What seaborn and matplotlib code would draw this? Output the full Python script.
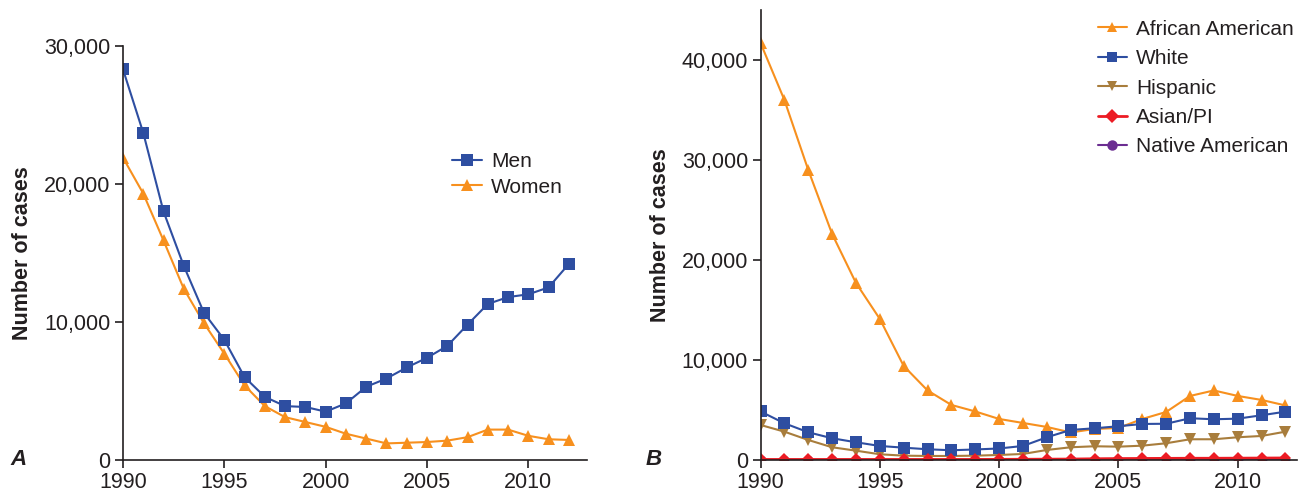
import numpy as np
import pandas as pd
import matplotlib
matplotlib.use("Agg")
import matplotlib.pyplot as plt
import seaborn as sns

YEARS = list(range(1990, 2013))

# Panel A: cases by sex
MEN = [28300, 23700, 18000, 14060, 10650, 8700, 6000, 4570, 3900, 3840, 3500,
       4100, 5300, 5900, 6700, 7400, 8260, 9800, 11300, 11800, 12000, 12500, 14200]
WOMEN = [21900, 19300, 15900, 12400, 9900, 7700, 5400, 3900, 3100, 2750, 2400,
         1900, 1550, 1200, 1250, 1300, 1400, 1650, 2200, 2200, 1750, 1500, 1450]

# Panel B: cases by race/ethnicity
AFRICAN_AMERICAN = [41700, 36000, 29000, 22600, 17700, 14100, 9400, 6950, 5500, 4850, 4100,
                    3700, 3300, 2750, 3100, 3200, 4100, 4800, 6400, 6950, 6400, 6000, 5450]
WHITE = [4850, 3670, 2770, 2170, 1770, 1400, 1230, 1070, 970, 1050, 1150,
         1400, 2270, 3000, 3170, 3370, 3600, 3620, 4170, 4070, 4130, 4470, 4830]
HISPANIC = [3500, 2830, 2000, 1270, 930, 570, 430, 400, 400, 430, 500,
            600, 1000, 1270, 1370, 1330, 1430, 1670, 2070, 2070, 2270, 2400, 2830]
ASIAN_PI = [50, 50, 50, 50, 50, 50, 50, 50, 50, 50, 60,
            70, 80, 90, 120, 140, 150, 160, 170, 170, 180, 190, 200]
NATIVE_AMERICAN = [20, 20, 20, 20, 20, 20, 20, 20, 20, 20, 20,
                   20, 20, 25, 30, 30, 30, 35, 40, 40, 40, 40, 40]

BLUE = "#2e4ea1"
ORANGE = "#f7901e"
BROWN = "#a87d3c"
RED = "#ec1c24"
PURPLE = "#6b2d91"
TEXT = "#231f20"

sns.set_style("ticks")
plt.rcParams["font.family"] = ["Liberation Sans", "DejaVu Sans"]
plt.rcParams["text.color"] = TEXT
plt.rcParams["axes.labelcolor"] = TEXT
plt.rcParams["xtick.color"] = TEXT
plt.rcParams["ytick.color"] = TEXT

fig = plt.figure(figsize=(13, 4.93), dpi=100)
ax_a = fig.add_axes([0.0946, 0.067, 0.357, 0.84])
ax_b = fig.add_axes([0.585, 0.067, 0.413, 0.913])

line_kw = dict(linewidth=1.5, markersize=8.5, markeredgewidth=0)


def draw(ax, values, color, marker, label, ms=None, lw=None):
    kw = dict(line_kw)
    if ms is not None:
        kw["markersize"] = ms
    if lw is not None:
        kw["linewidth"] = lw
    sns.lineplot(x=YEARS, y=values, ax=ax, color=color, marker=marker,
                 label=label, **kw)


draw(ax_a, WOMEN, ORANGE, "^", "Women")
draw(ax_a, MEN, BLUE, "s", "Men")

draw(ax_b, AFRICAN_AMERICAN, ORANGE, "^", "African American")
draw(ax_b, HISPANIC, BROWN, "v", "Hispanic")
draw(ax_b, WHITE, BLUE, "s", "White")
draw(ax_b, NATIVE_AMERICAN, PURPLE, "o", "Native American", ms=7)
draw(ax_b, ASIAN_PI, RED, "D", "Asian/PI", ms=6.5, lw=2)

for ax in (ax_a, ax_b):
    sns.despine(ax=ax)
    ax.spines["left"].set_color(TEXT)
    ax.spines["bottom"].set_color(TEXT)
    ax.spines["left"].set_linewidth(1.2)
    ax.spines["bottom"].set_linewidth(1.2)
    ax.tick_params(axis="both", labelsize=15.5, length=6, width=1.2, pad=3)
    ax.set_xticks([1990, 1995, 2000, 2005, 2010])
    ax.yaxis.set_major_formatter(matplotlib.ticker.FuncFormatter(lambda v, p: f"{int(v):,}"))
    ax.set_ylabel("Number of cases", fontsize=15.5, fontweight="bold", labelpad=8)
    ax.set_xlabel("")

ax_a.set_xlim(1990, 2012.9)
ax_a.set_ylim(0, 30000)
ax_a.set_yticks([0, 10000, 20000, 30000])

ax_b.set_xlim(1990, 2012.5)
ax_b.set_ylim(0, 45000)
ax_b.set_yticks([0, 10000, 20000, 30000, 40000])

leg_kw = dict(frameon=False, fontsize=15, handlelength=1.4, handletextpad=0.45,
              borderaxespad=0, borderpad=0)

h, l = ax_a.get_legend_handles_labels()
order = ["Men", "Women"]
ax_a.legend([h[l.index(k)] for k in order], order, loc="upper left",
            bbox_to_anchor=(0.71, 0.743), labelspacing=0.3, **leg_kw)

h, l = ax_b.get_legend_handles_labels()
order = ["African American", "White", "Hispanic", "Asian/PI", "Native American"]
leg = ax_b.legend([h[l.index(k)] for k in order], order, loc="upper left",
                  bbox_to_anchor=(0.628, 0.978), labelspacing=0.5, **leg_kw)
for hd in leg.legend_handles:
    hd.set_markersize(7.5)

fig.text(0.008, 0.057, "A", fontsize=16, fontweight="bold", style="italic")
fig.text(0.497, 0.057, "B", fontsize=16, fontweight="bold", style="italic")

fig.savefig("out.png", dpi=100)
